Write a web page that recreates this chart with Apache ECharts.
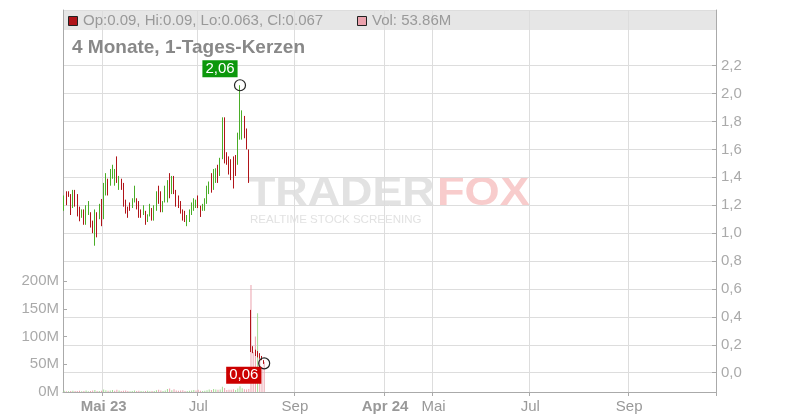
<!DOCTYPE html>
<html><head><meta charset="utf-8">
<script src="https://cdn.jsdelivr.net/npm/echarts@6.0.0/dist/echarts.min.js"></script>
<style>html,body{margin:0;padding:0;background:#fff}#c{width:800px;height:420px}</style>
</head><body><div id="c"></div>
<script>
// ---- data ----
const SLOT_COUNT = 297; // trading-day slots on the time axis
const tickSlots = [18, 61, 105, 146, 168, 212, 257];
const tickLabels = ['Mai 23', 'Jul', 'Sep', 'Apr 24', 'Mai', 'Jul', 'Sep'];

const open = [1.18,1.28,1.30,1.27,1.19,1.30,1.26,1.17,1.12,1.16,
  1.08,1.15,1.14,1.08,1.00,1.14,1.11,1.22,1.12,1.30,
  1.38,1.35,1.41,1.36,1.53,1.33,1.38,1.35,1.23,1.18,
  1.21,1.19,1.23,1.24,1.22,1.16,1.14,1.15,1.09,1.13,
  1.17,1.10,1.17,1.33,1.29,1.16,1.23,1.24,1.42,1.29,
  1.40,1.30,1.26,1.22,1.16,1.15,1.06,1.09,1.14,1.17,
  1.19,1.26,1.19,1.165,1.17,1.22,1.29,1.42,1.32,1.37,
  1.48,1.42,1.54,1.80,1.57,1.54,1.52,1.54,1.55,1.50,
  1.68,1.68,1.83,1.74,1.59,0.45,0.19,0.16,0.15,0.14,
  0.12,0.09];
const high = [1.27,1.30,1.30,1.28,1.31,1.31,1.28,1.19,1.17,1.17,
  1.20,1.23,1.15,1.09,1.17,1.15,1.21,1.245,1.36,1.43,
  1.39,1.46,1.49,1.46,1.55,1.41,1.39,1.36,1.24,1.19,
  1.22,1.25,1.34,1.25,1.23,1.17,1.20,1.16,1.135,1.21,
  1.18,1.20,1.30,1.34,1.30,1.23,1.34,1.38,1.43,1.41,
  1.41,1.31,1.27,1.23,1.17,1.16,1.13,1.17,1.22,1.25,
  1.24,1.27,1.197,1.21,1.25,1.34,1.37,1.43,1.46,1.465,
  1.49,1.54,1.83,1.83,1.58,1.55,1.53,1.55,1.56,1.72,
  2.06,1.88,1.84,1.75,1.60,0.45,0.19,0.165,0.155,0.14,
  0.12,0.09];
const low = [1.16,1.20,1.26,1.13,1.18,1.19,1.12,1.085,1.11,1.06,
  1.06,1.13,1.04,1.00,0.91,0.97,1.10,1.05,1.10,1.27,
  1.27,1.34,1.39,1.34,1.36,1.31,1.31,1.19,1.14,1.11,
  1.16,1.18,1.22,1.17,1.11,1.11,1.13,1.06,1.08,1.12,
  1.09,1.09,1.16,1.21,1.15,1.15,1.22,1.22,1.25,1.28,
  1.28,1.19,1.18,1.14,1.09,1.08,1.05,1.08,1.13,1.16,
  1.18,1.18,1.116,1.16,1.16,1.21,1.28,1.29,1.31,1.36,
  1.36,1.41,1.53,1.50,1.49,1.42,1.38,1.32,1.41,1.49,
  1.67,1.67,1.68,1.60,1.36,0.148,0.14,0.12,0.11,0.10,
  0.09,0.063];
const close = [1.25,1.22,1.27,1.15,1.30,1.21,1.14,1.10,1.16,1.08,
  1.19,1.22,1.06,1.01,1.15,1.00,1.20,1.08,1.34,1.41,
  1.29,1.45,1.48,1.45,1.38,1.40,1.32,1.21,1.15,1.12,
  1.17,1.24,1.33,1.18,1.12,1.12,1.19,1.07,1.13,1.20,
  1.10,1.19,1.29,1.22,1.16,1.22,1.33,1.37,1.27,1.40,
  1.29,1.20,1.19,1.15,1.10,1.09,1.12,1.16,1.21,1.24,
  1.23,1.19,1.12,1.205,1.24,1.33,1.36,1.30,1.45,1.46,
  1.37,1.53,1.81,1.52,1.50,1.43,1.39,1.33,1.42,1.71,
  1.86,1.87,1.69,1.61,1.37,0.16,0.145,0.125,0.13,0.10,
  0.095,0.067];
// volume in millions
const volume = [2.1,1.5,1.2,1.8,2.4,1.6,1.9,2.2,1.3,1.7,2.5,1.4,1.8,2.6,3.8,2.0,1.6,2.2,
  4.5,3.2,2.4,2.9,3.5,2.1,4.1,2.6,1.8,2.3,2.7,1.9,1.5,1.6,2.8,1.9,2.1,1.7,1.4,1.6,2.3,1.5,1.8,
  1.9,3.1,4.2,2.5,1.8,2.6,5.2,6.4,3.3,4.8,2.9,2.2,2.5,3.0,1.9,1.7,2.4,2.8,3.5,2.6,4.1,2.3,1.8,2.2,3.1,4.4,3.8,5.2,4.6,3.9,4.3,
  9.5,7.2,3.6,3.9,4.2,5.1,3.8,6.2,10.5,6.8,4.9,4.4,5.5,
  193,72,100,142,60,45,53.86];

// ---- derived ----
const slots = Array.from({length: SLOT_COUNT}, (_, i) => 'd' + i);
const candleData = open.map((o, i) => [o, close[i], low[i], high[i]]);
const UP = '#4aad28', DOWN = '#b01419', VUP = '#a3dc93', VDOWN = '#eba2ad';
const volData = volume.map((v, i) => {
  const up = i === 0 ? close[0] >= open[0] : close[i] >= close[i - 1];
  return {value: v, itemStyle: {color: up ? VUP : VDOWN}};
});
let peakIdx = 0;
high.forEach((h, i) => { if (h > high[peakIdx]) peakIdx = i; });
const lastIdx = close.length - 1;
const fmt2 = v => (Math.floor(v * 100 + 1e-9) / 100).toFixed(2).replace('.', ',');
const isTick = i => tickSlots.indexOf(i) >= 0;

const FONT = 'Liberation Sans, Arial, sans-serif';
const GL = 63, GR = 84;
const chart = echarts.init(document.getElementById('c'), null, {renderer: 'canvas'});
chart.setOption({
  animation: false,
  textStyle: {fontFamily: FONT},
  grid: [
    {left: GL, right: GR, top: 10, bottom: 28, outerBoundsMode: 'none'},
    {left: GL, right: GR, top: 65.7, bottom: 47.3, outerBoundsMode: 'none'},
    {left: GL, right: GR, top: 281, bottom: 28, outerBoundsMode: 'none'}
  ],
  xAxis: [
    {type: 'category', gridIndex: 0, data: slots, boundaryGap: true,
     axisLine: {show: true, lineStyle: {color: '#aaa'}},
     axisTick: {show: true, interval: (i) => isTick(i), length: 4, lineStyle: {color: '#aaa'}},
     splitLine: {show: true, interval: (i) => isTick(i), lineStyle: {color: '#ddd'}},
     axisLabel: {interval: (i) => isTick(i), margin: 7, fontSize: 15, color: '#999',
       formatter: (v, i) => { const k = tickSlots.indexOf(i); if (k < 0) return ''; const t = tickLabels[k]; return /\d/.test(t) ? '{b|' + t + '}' : t; },
       rich: {b: {fontWeight: 'bold', fontSize: 15, color: '#999', fontFamily: FONT}}}},
    {type: 'category', gridIndex: 1, data: slots, boundaryGap: true, show: false},
    {type: 'category', gridIndex: 2, data: slots, boundaryGap: true, show: false}
  ],
  yAxis: [
    {type: 'value', gridIndex: 0, position: 'left', min: 0, max: 1, interval: 1,
     axisLine: {show: true, lineStyle: {color: '#aaa'}}, axisTick: {show: false}, axisLabel: {show: false},
     splitLine: {show: true, lineStyle: {color: '#ddd'}}},
    {type: 'value', gridIndex: 0, position: 'right', min: 0, max: 1, interval: 1,
     axisLine: {show: true, lineStyle: {color: '#aaa'}}, axisTick: {show: false}, axisLabel: {show: false},
     splitLine: {show: false}},
    {type: 'value', gridIndex: 1, position: 'right', min: 0, max: 2.2, interval: 0.2,
     axisLine: {show: false}, axisTick: {show: true, inside: true, length: 4, lineStyle: {color: '#aaa'}},
     axisLabel: {margin: 5, fontSize: 15, color: '#aaa', formatter: v => v.toFixed(1).replace('.', ',')},
     splitLine: {show: true, lineStyle: {color: '#ddd'}}},
    {type: 'value', gridIndex: 2, position: 'left', min: 0, max: 200, interval: 50,
     axisLine: {show: false}, axisTick: {show: true, inside: true, length: 4, lineStyle: {color: '#aaa'}},
     axisLabel: {margin: 4, fontSize: 15, color: '#aaa', formatter: v => v + 'M'},
     splitLine: {show: false}}
  ],
  graphic: [
    {type: 'rect', z: -1, silent: true, shape: {x: GL, y: 11, width: 800 - GL - GR, height: 19}, style: {fill: '#e6e6e6'}},
    {type: 'text', z: -1, silent: true, x: 248, y: 194, scaleX: 1.12, style: {text: 'TRADER', x: 0, y: 0, font: 'bold 40px ' + FONT, fill: '#e2e2e2', verticalAlign: 'middle'}},
    {type: 'text', z: -1, silent: true, x: 437, y: 194, scaleX: 1.13, style: {text: 'FOX', x: 0, y: 0, font: 'bold 40px ' + FONT, fill: '#f8cccc', verticalAlign: 'middle'}},
    {type: 'text', z: -1, silent: true, x: 250, y: 220, scaleX: 1.05, style: {text: 'REALTIME STOCK SCREENING', x: 0, y: 0, font: '11px ' + FONT, fill: '#e2e2e2', verticalAlign: 'middle'}},
    {type: 'rect', z: 10, shape: {x: 68.5, y: 16.5, width: 9, height: 9}, style: {fill: DOWN, stroke: '#222', lineWidth: 1}},
    {type: 'text', z: 10, x: 83, y: 21, style: {text: 'Op:' + open[lastIdx] + ', Hi:' + high[lastIdx] + ', Lo:' + low[lastIdx] + ', Cl:' + close[lastIdx], x: 0, y: 0, font: '15px ' + FONT, fill: '#999', verticalAlign: 'middle'}},
    {type: 'rect', z: 10, shape: {x: 357.5, y: 16.5, width: 9, height: 9}, style: {fill: VDOWN, stroke: '#222', lineWidth: 1}},
    {type: 'text', z: 10, x: 372, y: 21, style: {text: 'Vol: ' + volume[lastIdx] + 'M', x: 0, y: 0, font: '15px ' + FONT, fill: '#999', verticalAlign: 'middle'}},
    {type: 'text', z: 10, x: 72, y: 48, style: {text: '4 Monate, 1-Tages-Kerzen', x: 0, y: 0, font: 'bold 19px ' + FONT, fill: '#888', verticalAlign: 'middle'}}
  ],
  series: [
    {type: 'bar', xAxisIndex: 2, yAxisIndex: 3, data: volData, barWidth: 1, z: 2, silent: true},
    {type: 'candlestick', xAxisIndex: 1, yAxisIndex: 2, data: candleData, barWidth: 1, z: 3, silent: true,
     itemStyle: {color: UP, color0: DOWN, borderColor: UP, borderColor0: DOWN, borderWidth: 1}},
    {type: 'scatter', xAxisIndex: 1, yAxisIndex: 2, z: 5, silent: true,
     data: [[peakIdx, high[peakIdx]]], symbol: 'circle', symbolSize: 11,
     itemStyle: {color: 'rgba(0,0,0,0)', borderColor: '#222', borderWidth: 1.2, opacity: 1},
     label: {show: true, position: [-31.5, -18.8], formatter: p => fmt2(p.value[1]), color: '#fff', fontSize: 15,
       backgroundColor: '#0c980c', padding: [1, 3, 1, 3]}},
    {type: 'scatter', xAxisIndex: 1, yAxisIndex: 2, z: 5, silent: true,
     data: [[lastIdx, close[lastIdx]]], symbol: 'circle', symbolSize: 11,
     itemStyle: {color: 'rgba(0,0,0,0)', borderColor: '#222', borderWidth: 1.2, opacity: 1},
     label: {show: true, position: [-31.9, 9.5], formatter: p => fmt2(p.value[1]), color: '#fff', fontSize: 15,
       backgroundColor: '#cc0000', padding: [1, 3, 1, 3]}}
  ]
});
</script></body></html>
